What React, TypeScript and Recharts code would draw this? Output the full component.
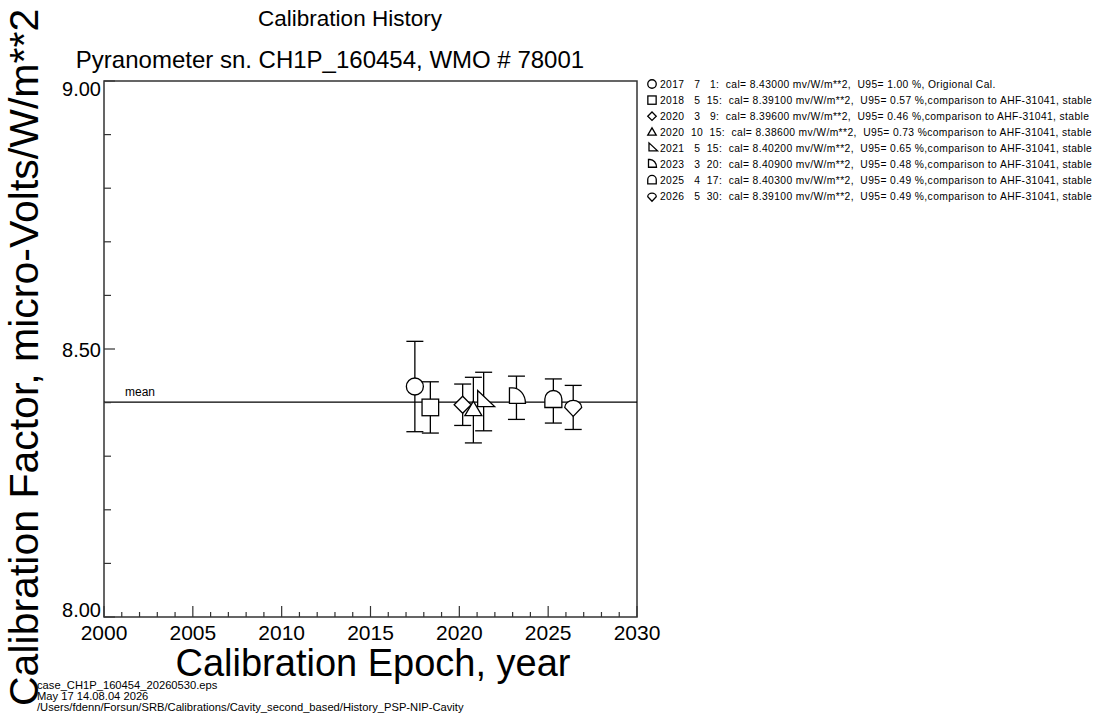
import React from 'react'
import { ScatterChart, Scatter, XAxis, YAxis, ErrorBar, ReferenceLine, ReferenceArea } from 'recharts'

// calibration records, one entry per visit
const years = [2017, 2018, 2020, 2020, 2021, 2023, 2025, 2026]
const months = [7, 5, 3, 10, 5, 3, 4, 5]
const days = [1, 15, 9, 15, 15, 20, 17, 30]
const calValues = [8.43, 8.391, 8.396, 8.386, 8.402, 8.409, 8.403, 8.391]
const u95Values = [1.0, 0.57, 0.46, 0.73, 0.65, 0.48, 0.49, 0.49]
const notes = [
  ', Origional Cal.',
  ',comparison to AHF-31041, stable',
  ',comparison to AHF-31041, stable',
  'comparison to AHF-31041, stable',
  ',comparison to AHF-31041, stable',
  ',comparison to AHF-31041, stable',
  ',comparison to AHF-31041, stable',
  ',comparison to AHF-31041, stable',
]
const markers = ['circle', 'square', 'diamond', 'triangle', 'rtri', 'quarter', 'arch', 'drop']
const MEAN_CAL = 8.401

const xTicks = [
  2000, 2001, 2002, 2003, 2004, 2005, 2006, 2007, 2008, 2009, 2010, 2011, 2012, 2013, 2014, 2015,
  2016, 2017, 2018, 2019, 2020, 2021, 2022, 2023, 2024, 2025, 2026, 2027, 2028, 2029, 2030,
]
const yTicks = [8.0, 8.1, 8.2, 8.3, 8.4, 8.5, 8.6, 8.7, 8.8, 8.9, 9.0]

const footerLines = [
  'case_CH1P_160454_20260530.eps',
  'May 17 14.08.04 2026',
  '/Users/fdenn/Forsun/SRB/Calibrations/Cavity_second_based/History_PSP-NIP-Cavity',
]

const FONT = '"Liberation Sans", Arial, Helvetica, sans-serif'

const toEpoch = (y: number, m: number, d: number) => {
  const start = Date.UTC(y, 0, 1)
  const doy = (Date.UTC(y, m - 1, d) - start) / 86400000
  return y + (doy + 0.5) / 365
}

const points = years.map((y, i) => ({
  epoch: toEpoch(y, months[i], days[i]),
  cal: calValues[i],
  err: (calValues[i] * u95Values[i]) / 100,
  marker: markers[i],
}))

const pad = (n: number, w: number) => String(n).padStart(w, ' ')
const legendText = years.map(
  (y, i) =>
    `${y}${pad(months[i], 4)}${pad(days[i], 4)}:  cal= ${calValues[i].toFixed(5)} mv/W/m**2,  U95= ${u95Values[i].toFixed(2)} %${notes[i]}`
)

function markerShape(kind: string, cx: number, cy: number, s: number, key?: string) {
  const common = { fill: '#fff', stroke: '#000', strokeWidth: 1.3, key }
  const p = (dx: number, dy: number) => `${cx + dx * s},${cy + dy * s}`
  switch (kind) {
    case 'circle':
      return <circle {...common} cx={cx} cy={cy} r={8.5 * s} />
    case 'square':
      return <rect {...common} x={cx - 8.3 * s} y={cy - 8.3 * s} width={16.6 * s} height={16.6 * s} />
    case 'diamond':
      return <path {...common} d={`M${p(-8.5, 0)} L${p(0, -8.5)} L${p(8.5, 0)} L${p(0, 8.5)} Z`} />
    case 'triangle':
      return <path {...common} d={`M${p(0, -9)} L${p(8.5, 5.5)} L${p(-8.5, 5.5)} Z`} />
    case 'rtri':
      return <path {...common} d={`M${p(-6, -11)} L${p(11, 5)} L${p(-6, 5)} Z`} />
    case 'quarter':
      return (
        <path
          {...common}
          d={`M${p(-7, -10)} L${p(-4, -10)} A${13 * s},${15.5 * s} 0 0 1 ${p(9, 5.5)} L${p(-7, 5.5)} Z`}
        />
      )
    case 'arch':
      return (
        <path
          {...common}
          d={`M${p(-8.5, 6.5)} L${p(-8.5, -2)} A${8.5 * s},${8.5 * s} 0 0 1 ${p(8.5, -2)} L${p(8.5, 6.5)} Z`}
        />
      )
    case 'drop':
    default:
      return (
        <path {...common} d={`M${p(-8.5, 0)} A${8.5 * s},${7 * s} 0 0 1 ${p(8.5, 0)} L${p(0, 9)} Z`} />
      )
  }
}

const YTick = (props: any) => {
  const { x, y, payload } = props
  const v = Math.round(payload.value * 10) / 10
  const major = Math.abs(v * 2 - Math.round(v * 2)) < 1e-6
  const dy = v >= 9 ? 15 : v <= 8 ? 0 : 7.5
  return (
    <g>
      <line x1={x} y1={y} x2={x + (major ? 11 : 7)} y2={y} stroke="#333" strokeWidth={1.2} />
      {major && (
        <text x={x - 3} y={y + dy} textAnchor="end" fontSize={20} fontFamily={FONT} fill="#000">
          {v.toFixed(2)}
        </text>
      )}
    </g>
  )
}

const XTick = (props: any) => {
  const { x, y, payload } = props
  const major = payload.value % 5 === 0
  return (
    <g>
      <line x1={x} y1={y} x2={x} y2={y - (major ? 11 : 5)} stroke="#333" strokeWidth={1.2} />
      {major && (
        <text x={x} y={y + 23} textAnchor="middle" fontSize={21} fontFamily={FONT} fill="#000">
          {payload.value}
        </text>
      )}
    </g>
  )
}

export default function App() {
  return (
    <div style={{ position: 'absolute', left: 0, top: 0, width: 1098, height: 715, background: '#fff' }}>
      <ScatterChart width={1098} height={715} margin={{ top: 81, right: 461, bottom: 68, left: 44 }}>
        <XAxis
          type="number"
          dataKey="epoch"
          domain={[2000, 2030]}
          ticks={xTicks}
          interval={0}
          axisLine={false}
          tickLine={false}
          tickSize={0}
          tickMargin={0}
          height={30}
          tick={<XTick />}
        />
        <YAxis
          type="number"
          dataKey="cal"
          domain={[8, 9]}
          ticks={yTicks}
          interval={0}
          axisLine={false}
          tickLine={false}
          tickSize={0}
          tickMargin={0}
          width={60}
          tick={<YTick />}
        />
        <ReferenceArea x1={2000} x2={2030} y1={8} y2={9} fill="none" stroke="#333" strokeWidth={1.5} />
        <ReferenceLine
          y={MEAN_CAL}
          stroke="#000"
          strokeWidth={1.3}
          label={(p: any) => (
            <text x={p.viewBox.x + 21} y={p.viewBox.y - 6} fontSize={12} fontFamily={FONT} fill="#000">
              mean
            </text>
          )}
        />
        <Scatter
          data={points}
          isAnimationActive={false}
          shape={(p: any) => markerShape(p.payload.marker, p.cx, p.cy, 1)}
        >
          <ErrorBar dataKey="err" direction="y" width={8.5} stroke="#000" strokeWidth={1.3} isAnimationActive={false} />
        </Scatter>
      </ScatterChart>
      <svg
        width={1098}
        height={715}
        style={{ position: 'absolute', left: 0, top: 0, pointerEvents: 'none' }}
        fontFamily={FONT}
      >
        <text x={350} y={26} textAnchor="middle" fontSize={22.5}>
          Calibration History
        </text>
        <text x={330} y={68} textAnchor="middle" fontSize={24}>
          Pyranometer sn. CH1P_160454, WMO # 78001
        </text>
        <text x={38} y={706} transform="rotate(-90 38 706)" fontSize={41}>
          Calibration Factor, micro-Volts/W/m**2
        </text>
        <text x={373} y={676} textAnchor="middle" fontSize={38}>
          Calibration Epoch, year
        </text>
        {footerLines.map((t, i) => (
          <text key={t} x={37} y={689 + i * 11} fontSize={11.2}>
            {t}
          </text>
        ))}
        {legendText.map((t, i) => (
          <g key={i}>
            {markerShape(markers[i], 652, 84 + i * 16.1, 0.5)}
            <text
              x={660}
              y={84 + i * 16.1 + 3.5}
              fontSize={10.3}
              letterSpacing={0.38}
              style={{ whiteSpace: 'pre' }}
            >
              {t}
            </text>
          </g>
        ))}
      </svg>
    </div>
  )
}
